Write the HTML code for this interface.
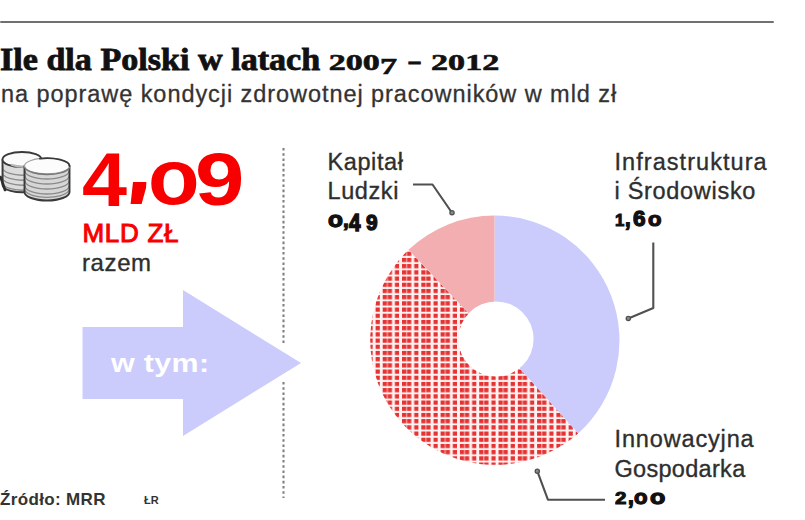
<!DOCTYPE html>
<html><head><meta charset="utf-8">
<style>
html,body{margin:0;padding:0;background:#fff;}
body{width:805px;height:520px;position:relative;overflow:hidden;font-family:"Liberation Sans",sans-serif;}
.a{position:absolute;white-space:nowrap;line-height:1;}
.od{display:inline-block;transform:scaleY(0.74);transform-origin:50% 26.2px;}
.lab{font-size:23.5px;color:#2e2e2e;letter-spacing:0.6px;-webkit-text-stroke:0.35px #2e2e2e;}
.g{position:absolute;font-size:100px;font-weight:bold;line-height:1;transform-origin:0 0;white-space:nowrap;}
</style></head><body>
<div id="rule" class="a" style="left:0;top:20.5px;width:774px;height:2.8px;background:#707070;border-radius:1.5px;"></div>
<div id="title" class="a" style="left:0;top:43.5px;letter-spacing:0px;font-family:'Liberation Serif',serif;font-weight:bold;font-size:31px;color:#111;-webkit-text-stroke:0.8px #111;transform:scaleX(1.1);transform-origin:0 0;">Ile dla Polski w latach <span class="od" style="">2</span><span class="od" style="">0</span><span class="od" style="">0</span><span class="od" style="transform:translateY(3.7px) scaleY(0.76);">7</span> <span style="display:inline-block;transform:scaleX(0.68);">–</span> <span class="od" style="">2</span><span class="od" style="">0</span><span class="od" style="">1</span><span class="od" style="">2</span></div>
<div id="sub" class="a" style="left:1px;top:82.5px;font-size:23.5px;letter-spacing:0.94px;color:#333;-webkit-text-stroke:0.3px #333;">na poprawę kondycji zdrowotnej pracowników w mld zł</div>

<div id="mld" class="a" style="left:82.5px;top:220px;font-size:26px;letter-spacing:0.7px;-webkit-text-stroke:1px #f80000;color:#f80000;">MLD ZŁ</div>
<div id="razem" class="a" style="left:82px;top:251px;font-size:24px;letter-spacing:0.6px;color:#2e2e2e;-webkit-text-stroke:0.35px #2e2e2e;">razem</div>

<div id="kap" class="a lab" style="left:327.5px;top:151px;">Kapitał</div>
<div id="ludz" class="a lab" style="left:327.5px;top:179.8px;">Ludzki</div>

<div id="inf" class="a lab" style="left:614.5px;top:151px;letter-spacing:1.05px;">Infrastruktura</div>
<div id="srod" class="a lab" style="left:614.5px;top:179.8px;letter-spacing:0.7px;">i Środowisko</div>

<div id="inn" class="a lab" style="left:614.5px;top:428.3px;letter-spacing:0.85px;">Innowacyjna</div>
<div id="gosp" class="a lab" style="left:614.5px;top:457.6px;letter-spacing:0.3px;">Gospodarka</div>

<div id="src" class="a" style="left:0px;top:490.5px;letter-spacing:0.35px;font-size:17px;font-weight:bold;color:#333;">Źródło: MRR</div>
<div id="lr" class="a" style="left:144px;top:495px;font-size:11px;font-weight:bold;color:#333;">ŁR</div>

<svg class="a" style="left:0;top:0" width="805" height="520" viewBox="0 0 805 520">
  <defs>
    <pattern id="hatch" patternUnits="userSpaceOnUse" width="19.3" height="6.2" x="486.5" y="339">
      <rect width="19.3" height="6.2" fill="#fff2f2"/>
      <g fill="#e53232"><rect x="0" y="0" width="4.3" height="4.2"/><rect x="5" y="0" width="4.3" height="4.2"/><rect x="12.2" y="0" width="4.2" height="4.2"/></g>
      <rect x="4.3" y="0" width="0.7" height="4.2" fill="#f29090"/>
    </pattern>
  </defs>
  <polygon points="133,182 146.4,182 146,188 141.6,204 130.6,204" fill="#f80000"/>
  <!-- coins -->
  <g fill="none" stroke-linecap="round">
    <path d="M2.5,159.5 L2.5,185 A20,7.5 0 0 0 40,188 L40,159.5 Z" fill="#dcdcdc" stroke="none"/>
    <g stroke="#8c8c8c" stroke-width="1.3">
      <path d="M3,166 A19.5,7.5 0 0 0 30,174.5"/>
      <path d="M3,171 A19.5,7.5 0 0 0 30,179.5"/>
      <path d="M3,176 A19.5,7.5 0 0 0 30,184.5"/>
      <path d="M3,181 A19.5,7.5 0 0 0 30,189.5"/>
    </g>
    <path d="M2.5,160 L2.5,185 A20,7.5 0 0 0 28,192" stroke="#3c3c3c" stroke-width="1.9"/>
    <ellipse cx="22" cy="159.5" rx="19.5" ry="7.5" fill="#fbfbfb" stroke="#3a3a3a" stroke-width="1.9"/>
    <path d="M12,165 A19.5,7.5 0 0 0 40,164" stroke="#b8b8b8" stroke-width="2.2"/>
    <path d="M0.5,177 L3,184 L5,190" stroke="#2e2e2e" stroke-width="2.6"/>
    <path d="M24.5,166 L24.5,192 A22.5,8.5 0 0 0 69.5,192 L69.5,166 Z" fill="#d6d6d6" stroke="none"/>
    <g stroke="#8a8a8a" stroke-width="1.3">
      <path d="M25,171 A22,8 0 0 0 69,171"/>
      <path d="M25,176 A22,8 0 0 0 69,176"/>
      <path d="M25,181 A22,8 0 0 0 69,181"/>
      <path d="M25,186 A22,8 0 0 0 69,186"/>
      <path d="M25.5,191 A22,8 0 0 0 68.5,191"/>
    </g>
    <path d="M24.5,166 L24.5,192 A22.5,8.5 0 0 0 69.5,192 L69.5,166" stroke="#3a3a3a" stroke-width="1.9"/>
    <ellipse cx="47" cy="166" rx="22.5" ry="7.8" fill="#fcfcfc" stroke="#a0a0a0" stroke-width="1.2"/>
    <path d="M40,158.6 A22.5,7.8 0 0 1 69.5,166" stroke="#3a3a3a" stroke-width="1.9"/>
    <path d="M25,168 A22.5,7.8 0 0 0 69,168.5" stroke="#777" stroke-width="1.4"/>
  </g>
  <!-- arrow -->
  <polygon points="82.5,327 183,327 183,290 301,363 183,436 183,399 82.5,399" fill="#cbcbfc"/>
  <!-- dotted line -->
  <line x1="283.5" y1="148" x2="283.5" y2="345" stroke="#808080" stroke-width="2.1" stroke-dasharray="2.6 2.6"/>
  <line x1="283.5" y1="382" x2="283.5" y2="498" stroke="#808080" stroke-width="2.1" stroke-dasharray="2.6 2.6"/>
  <!-- pie -->
  <g transform="translate(494.5,340.5)">
    <path d="M0,-125 A125,125 0 0 1 83.6,92.9 L0,0 Z" fill="#cbcbfc"/>
    <path d="M83.6,92.9 A125,125 0 0 1 -86.0,-90.7 L0,0 Z" fill="url(#hatch)"/>
    <path d="M-86.0,-90.7 A125,125 0 0 1 0,-125 L0,0 Z" fill="#f2aeb0"/>
    <circle cx="1.5" cy="-1.5" r="37.6" fill="#fff"/>
  </g>
  <!-- connectors -->
  <g fill="none" stroke="#505050" stroke-width="2.1" stroke-linejoin="round">
  <polyline points="413,184.5 432.5,184.5 451.8,212.5"/>
  <polyline points="653.3,242.5 653.3,308 628.3,318.5"/>
  <polyline points="537.3,471.2 547.9,499.7 605,499.7"/>
  </g>
  <g fill="#8a8a8a" stroke="#505050" stroke-width="1.3">
  <circle cx="452" cy="212.8" r="2.1"/>
  <circle cx="628.3" cy="318.5" r="2.1"/>
  <circle cx="537.3" cy="471.2" r="2.1"/>
  </g>
</svg>
<span class="g" style="left:81.88px;top:141.20px;transform:scale(0.8094,0.7623);color:#f80000;">4</span>
<span class="g" style="left:147.63px;top:138.39px;transform:scale(0.8434,0.7745);color:#f80000;">o</span>
<span class="g" style="left:195.45px;top:142.89px;transform:scale(0.8875,0.7338);color:#f80000;">9</span>
<span class="g" style="left:327.56px;top:207.90px;transform:scale(0.2441,0.2213);color:#111;-webkit-text-stroke:6px #111;">o</span>
<span class="g" style="left:342.79px;top:210.11px;transform:scale(0.2087,0.2028);color:#111;-webkit-text-stroke:6px #111;">,</span>
<span class="g" style="left:348.91px;top:210.70px;transform:scale(0.2068,0.2307);color:#111;-webkit-text-stroke:6px #111;">4</span>
<span class="g" style="left:366.29px;top:211.35px;transform:scale(0.2093,0.2208);color:#111;-webkit-text-stroke:6px #111;">9</span>
<span class="g" style="left:614.90px;top:211.92px;transform:scale(0.1680,0.1680);color:#111;-webkit-text-stroke:6px #111;">1</span>
<span class="g" style="left:624.80px;top:207.88px;transform:scale(0.2043,0.2167);color:#111;-webkit-text-stroke:6px #111;">,</span>
<span class="g" style="left:632.97px;top:208.13px;transform:scale(0.2259,0.2143);color:#111;-webkit-text-stroke:6px #111;">6</span>
<span class="g" style="left:647.78px;top:209.98px;transform:scale(0.2203,0.1934);color:#111;-webkit-text-stroke:6px #111;">o</span>
<span class="g" style="left:615.40px;top:489.43px;transform:scale(0.2055,0.1724);color:#111;-webkit-text-stroke:6px #111;">2</span>
<span class="g" style="left:628.19px;top:485.11px;transform:scale(0.2087,0.2222);color:#111;-webkit-text-stroke:6px #111;">,</span>
<span class="g" style="left:634.28px;top:486.12px;transform:scale(0.2220,0.2098);color:#111;-webkit-text-stroke:6px #111;">o</span>
<span class="g" style="left:650.35px;top:486.12px;transform:scale(0.2508,0.2098);color:#111;-webkit-text-stroke:6px #111;">o</span>
<div id="wtym" class="a" style="left:110.5px;top:349.5px;font-size:26px;font-weight:bold;letter-spacing:0.3px;color:#fff;transform:scaleX(1.17);transform-origin:0 0;">w tym:</div>
</body></html>
